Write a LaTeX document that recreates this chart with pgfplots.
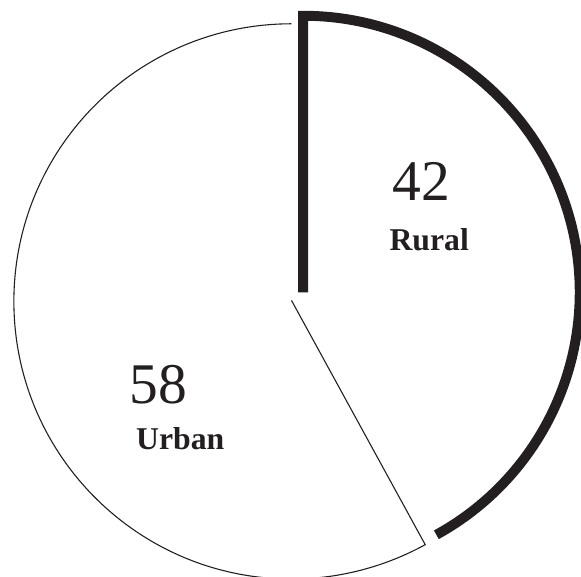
\documentclass[border=0pt]{standalone}
\usepackage{pgfplots}
\usepackage{pgfplotstable}
\pgfplotsset{compat=1.18}
\usepackage{fontspec}
\setmainfont{Liberation Serif}
\definecolor{ink}{RGB}{35,31,32}
\pgfplotstableread{
label value
Urban 58
Rural 42
}\pietable
\begin{document}
\pgfplotstablegetelem{0}{value}\of\pietable \let\urbanv\pgfplotsretval
\pgfplotstablegetelem{1}{value}\of\pietable \let\ruralv\pgfplotsretval
\pgfmathsetmacro\urbanend{90+3.6*\urbanv}
\pgfmathsetmacro\ruralend{90-3.6*\ruralv}
\begin{tikzpicture}
\begin{axis}[scale only axis, width=581pt, height=581pt, hide axis,
  xmin=-1.0358, xmax=1.0466, ymin=-0.9964, ymax=1.086]
% Urban slice (thin)
\draw[ink, line width=1.1pt, line join=miter]
  (axis cs:0,1) arc[start angle=90, end angle=\urbanend, radius=280pt] -- (axis cs:0,0);
% Rural slice (thick, offset)
\draw[ink, line width=10pt, line join=miter, line cap=butt]
  (axis cs:0.042,0.029) -- (axis cs:0.042,1.029)
  arc[start angle=90, end angle=\ruralend, radius=279pt];
\node[anchor=base, inner sep=0pt, ink, font=\fontsize{58}{58}\selectfont] at (axis cs:0.470,0.362) {\ruralv};
\node[anchor=base, inner sep=0pt, ink, font=\fontsize{32}{32}\selectfont\bfseries] at (axis cs:0.498,0.179) {Rural};
\node[anchor=base, inner sep=0pt, ink, font=\fontsize{58}{58}\selectfont] at (axis cs:-0.482,-0.373) {\urbanv};
\node[anchor=base, inner sep=0pt, ink, font=\fontsize{32}{32}\selectfont\bfseries] at (axis cs:-0.402,-0.538) {Urban};
\end{axis}
\pgfresetboundingbox
\path (current axis.south west) rectangle (current axis.north east);
\end{tikzpicture}
\end{document}
